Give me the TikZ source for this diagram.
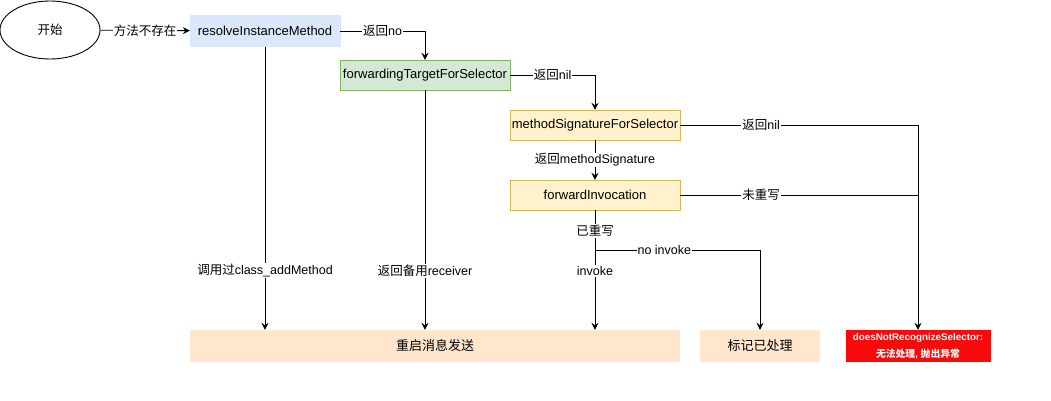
\documentclass[tikz,border=0pt]{standalone}
\usepackage{fontspec}
\setmainfont{Liberation Sans}
\newfontfamily\cjk{Noto Sans CJK SC}
\usetikzlibrary{arrows.meta,shapes.geometric}
\definecolor{bluef}{HTML}{DAE8FC}
\definecolor{greenf}{HTML}{D5E8D4}
\definecolor{greend}{HTML}{82B366}
\definecolor{yellowf}{HTML}{FFF2CC}
\definecolor{yellowd}{HTML}{D6B656}
\definecolor{orangef}{HTML}{FFE6CC}
\definecolor{redf}{HTML}{F80A0A}
\tikzset{
  box/.style={rectangle, inner sep=0pt, font=\fontsize{13}{15}\selectfont},
  lbl/.style={fill=white, inner sep=1pt, font=\fontsize{12.5}{14}\selectfont},
  conn/.style={line width=0.9pt, draw=black},
  arr/.style={conn, -{Stealth[length=7pt,width=7pt,inset=2.5pt]}}
}
\begin{document}
\begin{tikzpicture}[x=1pt,y=-1pt]
\useasboundingbox (0,0) rectangle (1051,401);
\node[draw, ellipse, line width=0.9pt, minimum width=100pt, minimum height=58pt, inner sep=0pt, font=\fontsize{12.5}{14}\selectfont] (start) at (50,30) {\cjk 开始};
\node[box, fill=bluef, draw=bluef, minimum width=150pt, minimum height=31pt] (resolve) at (265,31) {resolveInstanceMethod};
\node[box, fill=greenf, draw=greend, minimum width=170pt, minimum height=30pt] (fwd) at (425,75) {forwardingTargetForSelector};
\node[box, fill=yellowf, draw=yellowd, minimum width=170pt, minimum height=30pt] (msig) at (595,125) {methodSignatureForSelector};
\node[box, fill=yellowf, draw=yellowd, minimum width=170pt, minimum height=30pt] (finv) at (595,195) {forwardInvocation};
\node[box, fill=orangef, minimum width=490pt, minimum height=32pt] (restart) at (435,346) {\cjk 重启消息发送};
\node[box, fill=orangef, minimum width=120pt, minimum height=32pt] (mark) at (760,346) {\cjk 标记已处理};
\node[box, fill=redf, text=white, minimum width=145pt, minimum height=32pt, align=center, font=\fontsize{9.8}{17}\selectfont\bfseries] (dnr) at (918,346) {doesNotRecognizeSelector:\\{\cjk 无法处理}, {\cjk 抛出异常}};

\draw[arr] (start) -- node[lbl]{\cjk 方法不存在} (resolve);
\draw[arr] (resolve.east) -| node[lbl, pos=0.25]{{\cjk 返回}no} (fwd.north);
\draw[arr] (fwd.east) -| node[lbl, pos=0.25]{{\cjk 返回}nil} (msig.north);
\draw[arr] (msig.east) -| node[lbl, pos=0.17]{{\cjk 返回}nil} (dnr.north);
\draw[arr] (msig.south) -- node[lbl]{{\cjk 返回}methodSignature} (finv.north);
\draw[conn] (finv.east) -- node[lbl, pos=0.34]{\cjk 未重写} (finv.east -| dnr.north);
\draw[arr] (resolve.south) -- node[lbl, pos=0.79]{{\cjk 调用过}class\_addMethod} (resolve.south |- restart.north);
\draw[arr] (fwd.south) -- node[lbl, pos=0.754]{{\cjk 返回备用}receiver} (fwd.south |- restart.north);
\draw[arr] (finv.south) -- node[lbl, pos=0.175]{\cjk 已重写} node[lbl, pos=0.508]{invoke} (finv.south |- restart.north);
\coordinate (br) at (595,250);
\draw[arr] (br) -| node[lbl, pos=0.21]{no invoke} (mark.north);
\end{tikzpicture}
\end{document}
